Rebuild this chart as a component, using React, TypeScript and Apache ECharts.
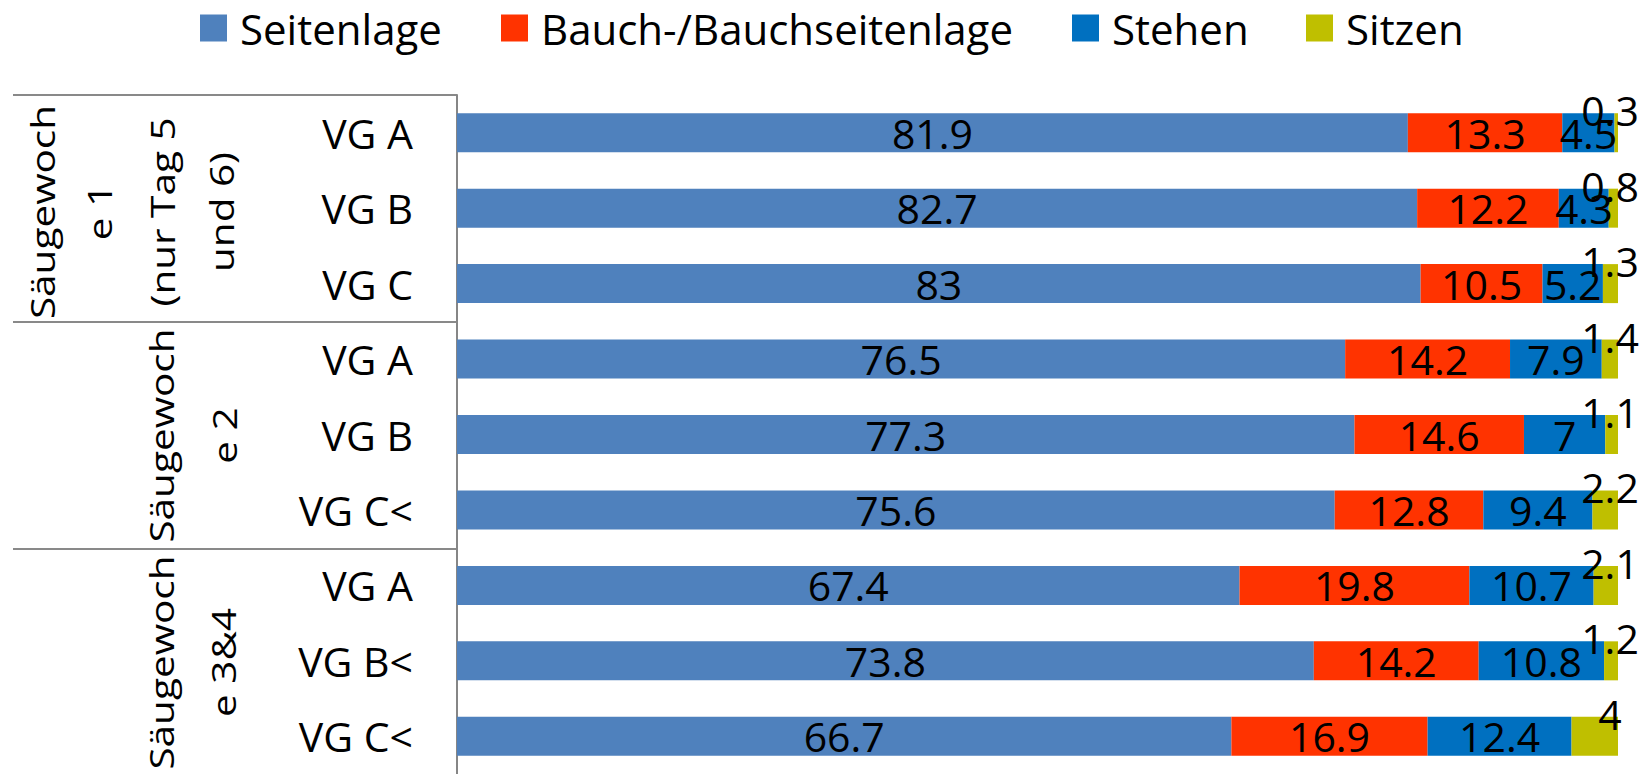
import React, { useEffect, useRef } from 'react';
import * as echarts from 'echarts';

// ---- data ----
const categories = ['VG A', 'VG B', 'VG C', 'VG A', 'VG B', 'VG C<', 'VG A', 'VG B<', 'VG C<'];
const seriesNames = ['Seitenlage', 'Bauch-/Bauchseitenlage', 'Stehen', 'Sitzen'];
const seitenlage = [81.9, 82.7, 83, 76.5, 77.3, 75.6, 67.4, 73.8, 66.7];
const bauch = [13.3, 12.2, 10.5, 14.2, 14.6, 12.8, 19.8, 14.2, 16.9];
const stehen = [4.5, 4.3, 5.2, 7.9, 7, 9.4, 10.7, 10.8, 12.4];
const sitzen = [0.3, 0.8, 1.3, 1.4, 1.1, 2.2, 2.1, 1.2, 4];
const groupLabels = [
  ['Säugewoch', 'e 1', '(nur Tag 5', 'und 6)'],
  ['Säugewoch', 'e 2'],
  ['Säugewoch', 'e 3&4'],
];
const groupSize = 3;

// ---- layout / style ----
const W = 1646;
const H = 774;
const GRID_LEFT = 457;
const GRID_RIGHT = 28;
const GRID_TOP = 95;
const GRID_HEIGHT = 681;
const FONT = '"Open Sans", "Noto Sans", sans-serif';
const COLORS = ['#4F81BD', '#FF3300', '#0070C0', '#BFBF00'];
const LEGEND_X = [200, 501, 1072, 1306];
const GROUP_LINE_X = [[42.5, 100, 163, 222], [161.5, 225], [161.5, 224]];
const GROUP_CENTER_SHIFT = [3.5, 0, 0];

export default function App() {
  const ref = useRef<HTMLDivElement>(null);

  useEffect(() => {
    if (!ref.current) return;
    const chart = echarts.init(ref.current, undefined, { renderer: 'svg' });

    const band = GRID_HEIGHT / categories.length;
    const groupH = band * groupSize;

    const graphics: any[] = [];
    for (let g = 0; g <= groupLabels.length - 1; g++) {
      const y = GRID_TOP + g * groupH;
      graphics.push({
        type: 'line',
        shape: { x1: 13, y1: y, x2: GRID_LEFT, y2: y },
        style: { stroke: '#898989', lineWidth: 2 },
        silent: true,
      });
    }
    groupLabels.forEach((lines, g) => {
      const cy = GRID_TOP + g * groupH + groupH / 2 + GROUP_CENTER_SHIFT[g];
      lines.forEach((txt, i) => {
        graphics.push({
          type: 'text',
          x: GROUP_LINE_X[g][i],
          y: cy,
          rotation: Math.PI / 2,
          scaleY: 0.8,
          silent: true,
          style: {
            text: txt,
            fontSize: 40.5,
            fontFamily: FONT,
            fill: '#000',
            align: 'center',
            verticalAlign: 'middle',
            textAlign: 'center',
            textVerticalAlign: 'middle',
          },
        });
      });
    });

    const baseLabel = {
      show: true,
      position: 'inside',
      color: '#000',
      fontSize: 41,
      fontFamily: FONT,
      textBorderWidth: 0,
    };

    const values = [seitenlage, bauch, stehen, sitzen];
    const series = seriesNames.map((name, i) => ({
      name,
      type: 'bar',
      stack: 'total',
      data: values[i],
      barWidth: 39,
      itemStyle: { color: COLORS[i] },
      emphasis: { disabled: true },
      label:
        i === 3
          ? {
              ...baseLabel,
              position: ['100%', 0],
              align: 'center',
              verticalAlign: 'middle',
              offset: [-8, -3],
            }
          : baseLabel,
    }));

    chart.setOption({
      animation: false,
      backgroundColor: '#fff',
      legend: seriesNames.map((name, i) => ({
        data: [name],
        left: LEGEND_X[i],
        top: 7,
        padding: 0,
        itemGap: 0,
        itemWidth: 27,
        itemHeight: 27,
        icon: 'rect',
        selectedMode: false,
        textStyle: {
          fontSize: 42,
          fontFamily: FONT,
          color: '#000',
          lineHeight: 42,
          padding: [0, 0, 0, 8],
        },
      })),
      grid: {
        left: GRID_LEFT,
        right: GRID_RIGHT,
        top: GRID_TOP,
        height: GRID_HEIGHT,
        containLabel: false,
      },
      xAxis: {
        type: 'value',
        min: 0,
        max: 100,
        show: false,
        splitLine: { show: false },
      },
      yAxis: {
        type: 'category',
        data: categories,
        inverse: true,
        axisLine: { show: true, lineStyle: { color: '#868686', width: 2 } },
        axisTick: { show: false },
        axisLabel: {
          color: '#000',
          fontSize: 41,
          fontFamily: FONT,
          margin: 44,
        },
      },
      graphic: graphics,
      series,
    } as any);

    return () => chart.dispose();
  }, []);

  return (
    <div
      ref={ref}
      style={{ position: 'fixed', left: 0, top: 0, width: W, height: H, background: '#fff' }}
    />
  );
}
